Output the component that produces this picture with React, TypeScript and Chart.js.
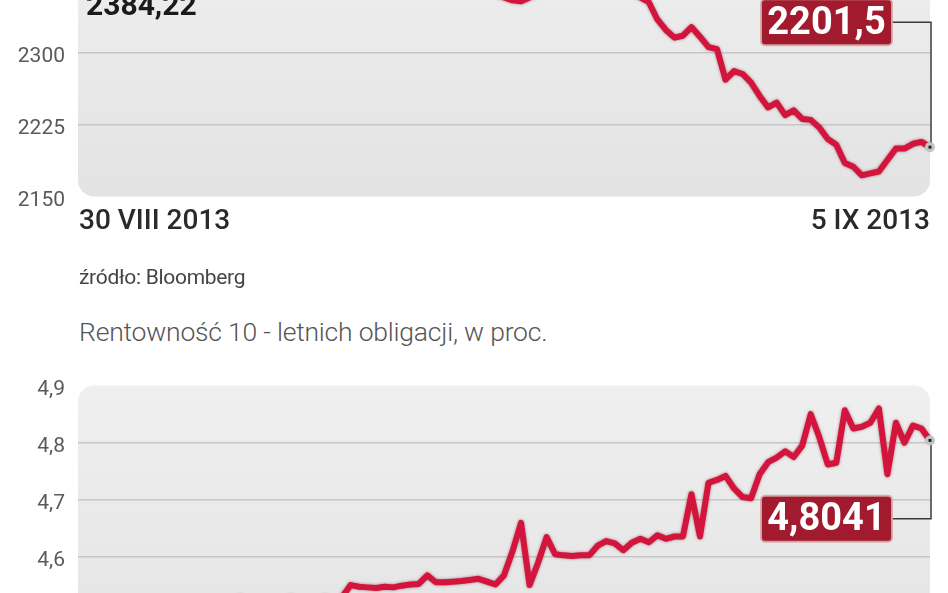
import { useEffect, useRef } from 'react';
import { Chart, registerables } from 'chart.js';

Chart.register(...registerables);

// indeks giełdowy, 30 VIII – 5 IX 2013 (notowania w ciągu dnia)
const indexValues = [
  2384.22, 2388, 2392, 2386, 2390, 2395, 2398, 2394, 2390, 2385,
  2380, 2376, 2379, 2383, 2387, 2392, 2396, 2400, 2404, 2401,
  2397, 2393, 2390, 2386, 2382, 2378, 2374, 2372, 2376, 2380,
  2384, 2388, 2385, 2381, 2377, 2373, 2370, 2368, 2372, 2375,
  2371, 2367, 2364, 2362, 2365, 2368, 2366, 2366, 2364, 2361,
  2358, 2355, 2354, 2358, 2361, 2364, 2367, 2370, 2373, 2376,
  2378, 2375, 2372, 2368, 2365, 2362, 2358, 2353, 2335, 2324,
  2316, 2318, 2327, 2317, 2306, 2304, 2272, 2281, 2278, 2269,
  2255, 2243, 2248, 2235, 2240, 2231, 2230, 2222, 2210, 2204,
  2185, 2181, 2172, 2174, 2176, 2188, 2200, 2200, 2205, 2207,
  2201.5,
];
const indexTicks = [2150, 2225, 2300, 2375];

// rentowność 10-letnich obligacji, w proc.
const yieldValues = [
  4.48, 4.47, 4.49, 4.5, 4.48, 4.46, 4.47, 4.49, 4.51, 4.5,
  4.48, 4.47, 4.49, 4.5, 4.52, 4.51, 4.49, 4.5, 4.51, 4.53,
  4.52, 4.5, 4.51, 4.52, 4.51, 4.53, 4.52, 4.51, 4.52, 4.53,
  4.52, 4.53, 4.551, 4.548, 4.547, 4.546, 4.548, 4.547, 4.55, 4.552,
  4.553, 4.568, 4.556, 4.556, 4.557, 4.558, 4.56, 4.562, 4.557, 4.552,
  4.568, 4.61, 4.66, 4.551, 4.59, 4.635, 4.605, 4.603, 4.602, 4.603,
  4.603, 4.62, 4.628, 4.624, 4.612, 4.625, 4.632, 4.626, 4.638, 4.632,
  4.636, 4.636, 4.71, 4.636, 4.73, 4.735, 4.742, 4.72, 4.705, 4.703,
  4.745, 4.766, 4.774, 4.785, 4.775, 4.795, 4.85, 4.81, 4.762, 4.765,
  4.857, 4.825, 4.828, 4.835, 4.86, 4.745, 4.835, 4.8, 4.83, 4.825,
  4.8041,
];
const yieldTicks = [4.4, 4.5, 4.6, 4.7, 4.8, 4.9];

const indexLabels = indexValues.map((_, i) => String(i));
const yieldLabels = yieldValues.map((_, i) => String(i));

const RED = '#d3143c';

interface PanelProps {
  labels: string[];
  values: number[];
  ticks: number[];
  min: number;
  max: number;
  decimals: number;
  calloutText: string;
  calloutAt: number; // wartość osi y środka ramki
  startText?: string;
  startAt?: number;
}

const Panel = ({ labels, values, ticks, min, max, decimals, calloutText, calloutAt, startText, startAt }: PanelProps) => {
  const chartRef = useRef<HTMLCanvasElement>(null);
  const chartInstance = useRef<Chart | null>(null);

  useEffect(() => {
    if (!chartRef.current) return;
    const ctx = chartRef.current.getContext('2d');
    if (!ctx) return;

    // szare tło z zaokrąglonymi rogami
    const background = {
      id: 'background',
      beforeDraw(chart: Chart) {
        const { ctx, chartArea: a } = chart;
        const g = ctx.createLinearGradient(0, a.top, 0, a.bottom);
        g.addColorStop(0, '#efefef');
        g.addColorStop(1, '#e3e3e3');
        ctx.save();
        ctx.beginPath();
        ctx.roundRect(a.left, a.top, a.right - a.left, a.bottom - a.top, 16);
        ctx.fillStyle = g;
        ctx.fill();
        ctx.restore();
      },
    };

    const shadow = {
      id: 'lineShadow',
      beforeDatasetsDraw(chart: Chart) {
        chart.ctx.save();
        chart.ctx.shadowColor = 'rgba(110, 0, 20, 0.5)';
        chart.ctx.shadowBlur = 3;
      },
      afterDatasetsDraw(chart: Chart) {
        chart.ctx.restore();
      },
    };

    // ramka z ostatnią wartością + łącznik do punktu końcowego
    const callout = {
      id: 'callout',
      afterDraw(chart: Chart) {
        const { ctx, chartArea: a } = chart;
        const xs = chart.scales.x;
        const ys = chart.scales.y;
        const last = values.length - 1;
        const px = xs.getPixelForValue(last);
        const py = ys.getPixelForValue(values[last]);
        const cy = ys.getPixelForValue(calloutAt);
        const w = 131;
        const h = 46;
        const bx = px - 38 - w;

        ctx.save();
        ctx.strokeStyle = '#3a3a3a';
        ctx.lineWidth = 1.5;
        ctx.beginPath();
        ctx.moveTo(bx + w, cy);
        ctx.lineTo(px + 1, cy);
        ctx.lineTo(px + 1, py);
        ctx.stroke();

        ctx.beginPath();
        ctx.roundRect(bx, cy - h / 2, w, h, 4);
        ctx.fillStyle = '#a11a2d';
        ctx.fill();
        ctx.strokeStyle = 'rgba(215, 170, 170, 0.9)';
        ctx.lineWidth = 2;
        ctx.stroke();

        ctx.fillStyle = '#ffffff';
        ctx.font = 'bold 38px Roboto, sans-serif';
        ctx.textAlign = 'center';
        ctx.textBaseline = 'middle';
        ctx.fillText(calloutText, bx + w / 2, cy + 2);

        ctx.beginPath();
        ctx.arc(px, py, 5, 0, Math.PI * 2);
        ctx.fillStyle = '#c4c4c4';
        ctx.fill();
        ctx.fillStyle = '#222';
        ctx.fillRect(px - 1.5, py - 1.5, 3, 3);

        if (startText && startAt !== undefined) {
          ctx.fillStyle = '#1a1a1a';
          ctx.font = 'bold 30px Roboto, sans-serif';
          ctx.textAlign = 'left';
          ctx.textBaseline = 'alphabetic';
          ctx.fillText(startText, a.left + 8, ys.getPixelForValue(startAt));
        }
        ctx.restore();
      },
    };

    chartInstance.current = new Chart(ctx, {
      type: 'line',
      data: {
        labels,
        datasets: [{
          data: values,
          borderColor: RED,
          borderWidth: 6,
          borderJoinStyle: 'round',
          borderCapStyle: 'round',
          pointRadius: 0,
          tension: 0,
          fill: false,
        }],
      },
      options: {
        animation: false,
        responsive: true,
        maintainAspectRatio: false,
        layout: { padding: { top: 20, bottom: 20, left: 0, right: 18 } },
        plugins: { legend: { display: false }, tooltip: { enabled: false } },
        scales: {
          x: { display: false },
          y: {
            min,
            max,
            afterFit: (scale) => { scale.width = 78; },
            afterBuildTicks: (scale) => { scale.ticks = ticks.map((value) => ({ value })); },
            border: { display: false },
            grid: {
              drawTicks: false,
              lineWidth: 1.5,
              color: (c) => (c.tick && (Math.abs(c.tick.value - min) < 1e-9 || Math.abs(c.tick.value - max) < 1e-9) ? 'rgba(0,0,0,0)' : '#c6c6c6'),
            },
            ticks: {
              padding: 13,
              labelOffset: 4,
              color: '#5a5a5a',
              font: { family: 'Roboto, sans-serif', size: 21 },
              callback: (v) => Number(v).toFixed(decimals).replace('.', ','),
            },
          },
        },
      },
      plugins: [background, shadow, callout],
    });

    return () => {
      if (chartInstance.current) {
        chartInstance.current.destroy();
        chartInstance.current = null;
      }
    };
  }, [labels, values, ticks, min, max, decimals, calloutText, calloutAt, startText, startAt]);

  return <canvas ref={chartRef} />;
};

const text = (extra: React.CSSProperties): React.CSSProperties => ({
  position: 'absolute',
  lineHeight: 1,
  whiteSpace: 'nowrap',
  fontFamily: 'Roboto, sans-serif',
  ...extra,
});

export default function App() {
  return (
    <div style={{ position: 'fixed', left: 0, top: 0, width: 948, height: 593, overflow: 'hidden', background: '#fff' }}>
      <div style={{ position: 'absolute', left: 0, top: -97, width: 948, height: 319 }}>
        <Panel
          labels={indexLabels}
          values={indexValues}
          ticks={indexTicks}
          min={2150}
          max={2430}
          decimals={0}
          calloutText="2201,5"
          calloutAt={2332}
          startText="2384,22"
          startAt={2340}
        />
      </div>
      <div style={text({ left: 79, top: 206, fontSize: 28, fontWeight: 500, color: '#2a2a2a' })}>30 VIII 2013</div>
      <div style={text({ right: 18, top: 206, fontSize: 28, fontWeight: 500, color: '#2a2a2a' })}>5 IX 2013</div>
      <div style={text({ left: 79, top: 267, fontSize: 21, color: '#444', letterSpacing: -0.3 })}>źródło: Bloomberg</div>
      <div style={text({ left: 79, top: 319, fontSize: 26.5, fontWeight: 300, color: '#555', letterSpacing: -0.2 })}>Rentowność 10 - letnich obligacji, w proc.</div>
      <div style={{ position: 'absolute', left: 0, top: 360, width: 948, height: 337 }}>
        <Panel
          labels={yieldLabels}
          values={yieldValues}
          ticks={yieldTicks}
          min={4.4}
          max={4.9}
          decimals={1}
          calloutText="4,8041"
          calloutAt={4.667}
        />
      </div>
    </div>
  );
}
